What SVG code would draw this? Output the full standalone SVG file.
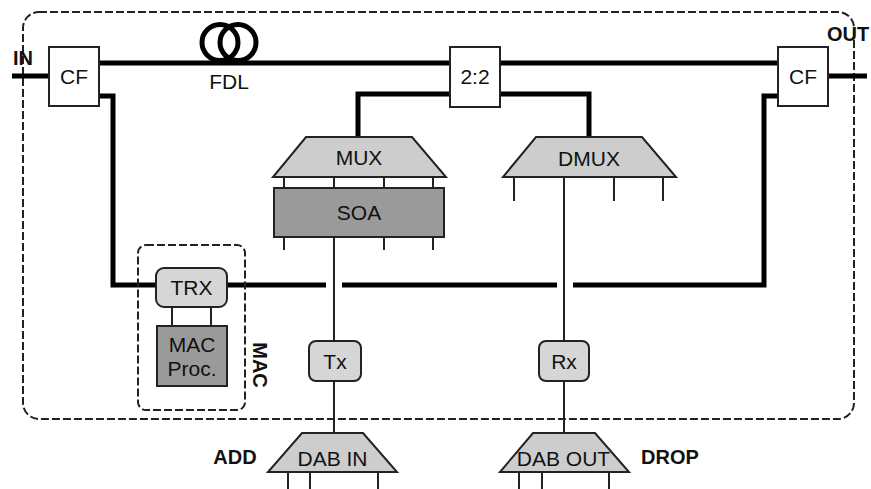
<svg xmlns="http://www.w3.org/2000/svg" width="871" height="489" viewBox="0 0 871 489">
<style>
text{font-family:"Liberation Sans",Arial,sans-serif;font-size:21px;fill:#111;text-anchor:middle}
.b{font-weight:bold;font-size:20px}
.thick{fill:none;stroke:#000;stroke-width:5}
.thin{fill:none;stroke:#222;stroke-width:2}
.box{fill:#fff;stroke:#222;stroke-width:2}
.lg{fill:#cdcdcd;stroke:#222;stroke-width:2}
.rb{fill:#d6d6d6;stroke:#222;stroke-width:2}
.dg{fill:#9a9a9a;stroke:#222;stroke-width:2}
.dash{fill:none;stroke:#222;stroke-width:2;stroke-dasharray:8,3}
</style>
<rect width="871" height="489" fill="#fff"/>
<g id="boundary">
<rect class="dash" x="23" y="12" width="831" height="407" rx="16"/>
</g>
<g id="connectors">
<path class="thick" d="M12 76H50"/>
<path class="thick" d="M99 63H450"/>
<path class="thick" d="M500 63H778"/>
<path class="thick" d="M828 76H867"/>
<path class="thick" d="M450 94H358V137"/>
<path class="thick" d="M500 94H589V137"/>
<path class="thick" d="M99 96H113V285H156"/>
<path class="thick" d="M778 96H764V285H573"/>
<path class="thick" d="M227 285H326"/>
<path class="thick" d="M342 285H557"/>
<path class="thin" d="M284 177V188M334 177V188M384 177V188M433 177V188"/>
<path class="thin" d="M284 237V250M384 237V250M433 237V250"/>
<path class="thin" d="M334 237V341M334 381V433"/>
<path class="thin" d="M514 177V201M614 177V201M663 177V201"/>
<path class="thin" d="M564 177V341M564 381V433"/>
<path class="thin" d="M172 307V326M211 307V326"/>
<path class="thin" d="M288 472V489M310 472V489M378 472V489"/>
<path class="thin" d="M519 472V489M542 472V489M609 472V489"/>
</g>
<g id="fdl">
<circle cx="220" cy="42.5" r="18" fill="none" stroke="#000" stroke-width="5"/>
<circle cx="238" cy="42.5" r="18" fill="none" stroke="#000" stroke-width="5"/>
<text x="229" y="89">FDL</text>
</g>
<g id="cf-in"><rect class="box" x="49" y="47" width="50" height="59"/><text x="74" y="84">CF</text></g>
<g id="coupler"><rect class="box" x="450" y="47" width="50" height="60"/><text x="475" y="84">2:2</text></g>
<g id="cf-out"><rect class="box" x="778" y="47" width="50" height="59"/><text x="803" y="84">CF</text></g>
<g id="mux"><polygon class="lg" points="306,137 412,137 446,177 273,177"/><text x="359" y="165">MUX</text></g>
<g id="soa"><rect class="dg" x="274" y="188" width="170" height="49"/><text x="359" y="220">SOA</text></g>
<g id="dmux"><polygon class="lg" points="536,137 642,137 676,177 503,177"/><text x="589" y="166">DMUX</text></g>
<g id="mac-group">
<rect class="dash" x="138" y="245" width="107" height="165" rx="8"/>
<text class="b" transform="translate(253,365) rotate(90)">MAC</text>
</g>
<g id="trx"><rect class="rb" x="156" y="268" width="71" height="39" rx="8"/><text x="191.5" y="295">TRX</text></g>
<g id="mac-proc"><rect class="dg" x="157" y="326" width="70" height="60"/><text x="192" y="352">MAC</text><text x="192" y="376">Proc.</text></g>
<g id="tx"><rect class="rb" x="309" y="341" width="52" height="40" rx="7"/><text x="335" y="369">Tx</text></g>
<g id="rx"><rect class="rb" x="539" y="341" width="50" height="40" rx="7"/><text x="564" y="369">Rx</text></g>
<g id="dab-in"><polygon class="lg" points="302,433 363,433 397,472 268,472"/><text x="332.5" y="466">DAB IN</text></g>
<g id="dab-out"><polygon class="lg" points="533,433 595,433 629,472 500,472"/><text x="563.5" y="466">DAB OUT</text></g>
<g id="labels">
<text class="b" x="23" y="65">IN</text>
<text class="b" x="848" y="41">OUT</text>
<text class="b" x="235" y="464">ADD</text>
<text class="b" x="670" y="464">DROP</text>
</g>
</svg>
